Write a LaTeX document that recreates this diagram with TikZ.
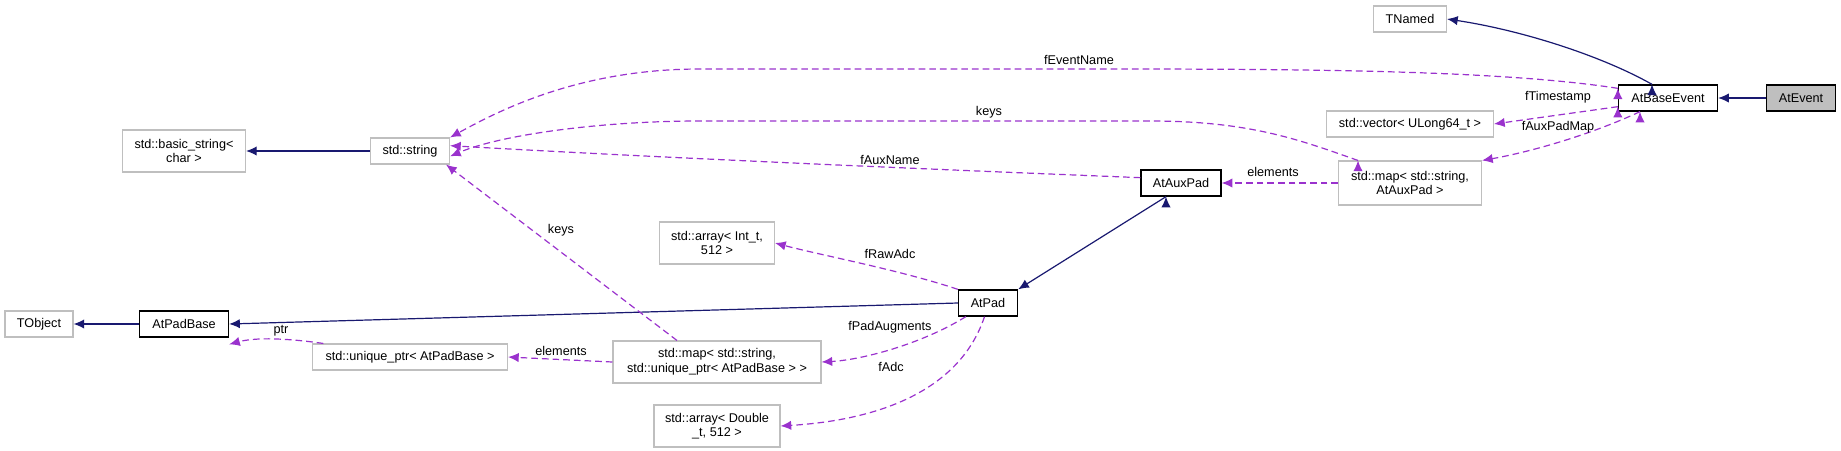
\documentclass[tikz,border=0pt]{standalone}
\usepackage{fontspec}
\setmainfont{Liberation Sans}
\usetikzlibrary{arrows.meta}
\definecolor{inh}{HTML}{191970}
\definecolor{use}{HTML}{9A32CD}
\definecolor{gb}{HTML}{BFBFBF}
\begin{document}
\begin{tikzpicture}[x=0.75pt,y=-0.75pt,
  box/.style={draw=gb,line width=0.8pt,minimum height=26*0.75pt,inner sep=1pt,font=\fontsize{9.5}{11}\selectfont,align=center},
  bbox/.style={box,draw=black,line width=1pt},
  inhe/.style={draw=inh,line width=0.9pt,-{Latex[length=8pt,width=7pt]}},
  usee/.style={draw=use,line width=0.9pt,dash pattern=on 5pt off 3pt,-{Latex[length=8pt,width=7pt]}},
  lab/.style={font=\fontsize{9.5}{11}\selectfont,inner sep=1pt}]
\useasboundingbox (0,0) rectangle (1841,450);
% nodes
\node[box,minimum width=73*0.75pt] (tnamed) at (1410,19) {TNamed};
\node[bbox,minimum width=99*0.75pt] (abe) at (1668,98) {AtBaseEvent};
\node[bbox,fill=gb,minimum width=69*0.75pt] (ae) at (1801,98) {AtEvent};
\node[box,minimum width=167*0.75pt] (vec) at (1410,124) {std::vector< ULong64\_t >};
\node[box,minimum width=143*0.75pt,minimum height=44*0.75pt] (maux) at (1410,183) {std::map< std::string,\\ AtAuxPad >};
\node[bbox,minimum width=80*0.75pt] (aux) at (1181,183) {AtAuxPad};
\node[box,minimum width=79*0.75pt] (str) at (410,151) {std::string};
\node[box,minimum width=123*0.75pt,minimum height=42*0.75pt] (bstr) at (184,151) {std::basic\_string<\\ char >};
\node[box,minimum width=115*0.75pt,minimum height=42*0.75pt] (aint) at (717,243) {std::array< Int\_t,\\ 512 >};
\node[bbox,minimum width=59*0.75pt] (pad) at (988,303) {AtPad};
\node[box,minimum width=68*0.75pt] (tobj) at (39,324) {TObject};
\node[bbox,minimum width=89*0.75pt] (pbase) at (184,324) {AtPadBase};
\node[box,minimum width=195*0.75pt] (uptr) at (410,357) {std::unique\_ptr< AtPadBase >};
\node[box,minimum width=208*0.75pt,minimum height=42*0.75pt] (mup) at (717,362) {std::map< std::string,\\ std::unique\_ptr< AtPadBase > >};
\node[box,minimum width=126*0.75pt,minimum height=42*0.75pt] (adbl) at (717,426) {std::array< Double\\ \_t, 512 >};
% inheritance
\draw[inhe] (ae) -- (abe);
\draw[inhe] (abe.north) ++(-16,0) coordinate (c1);
\draw[inhe] (c1) .. controls (1600,55) and (1520,30) .. (tnamed.east);
\draw[inhe] (str) -- (bstr);
\draw[inhe] (pbase) -- (tobj);
\draw[inhe] (pad.west) -- (pbase.east);
\draw[inhe] (aux.south) ++(-15,0) coordinate (c2);
\draw[inhe] (c2) -- (pad.north east);
% usage
\draw[usee] (abe.north west) ++(0,4) coordinate (c3);
\draw[usee] (c3) .. controls (1500,70) and (1300,69) .. (1100,69) -- (700,69) .. controls (580,69) and (500,110) .. (str.north east);
\node[lab] (l1) at (1079,60) {fEventName};
\draw[usee] (abe.south west) ++(0,-5) coordinate (c4);
\draw[usee] (c4) -- (vec.east);
\node[lab] (l2) at (1558,97) {fTimestamp};
\draw[usee] (abe.south) ++(-28,0) coordinate (c5);
\draw[usee] (c5) .. controls (1590,135) and (1530,152) .. (maux.north east);
\node[lab] (l3) at (1558,127) {fAuxPadMap};
\draw[usee] (maux.north) ++(-52,0) coordinate (c6);
\draw[usee] (c6) .. controls (1300,140) and (1250,121) .. (1150,121) -- (700,121) .. controls (600,121) and (500,135) .. ([yshift=-4]str.east);
\node[lab] (l4) at (989,112) {keys};
\draw[usee] (maux.west) -- (aux.east);
\node[lab] (l5) at (1273,172) {elements};
\draw[usee] ([yshift=4]aux.west) .. controls (1000,172) and (700,160) .. ([yshift=4]str.east);
\node[lab] (l6) at (890,160) {fAuxName};
\draw[usee] (pad.north west) .. controls (900,270) and (820,255) .. (aint.east);
\node[lab] (l7) at (890,254) {fRawAdc};
\draw[usee] ([xshift=6]pad.south west) .. controls (920,345) and (860,360) .. (mup.east);
\node[lab] (l8) at (890,327) {fPadAugments};
\draw[usee] ([xshift=20]pad.south west) .. controls (960,390) and (880,420) .. (adbl.east);
\node[lab] (l9) at (891,367) {fAdc};
\draw[usee] ([xshift=-30]mup.north) -- ([xshift=27]str.south);
\node[lab] (l10) at (561,230) {keys};
\draw[usee] (mup.west) -- (uptr.east);
\node[lab] (l11) at (561,351) {elements};
\draw[usee] ([xshift=-65]uptr.north) .. controls (300,340) and (260,336) .. ([yshift=-5]pbase.south east);
\node[lab] (l12) at (281,331) {ptr};
\end{tikzpicture}
\end{document}
